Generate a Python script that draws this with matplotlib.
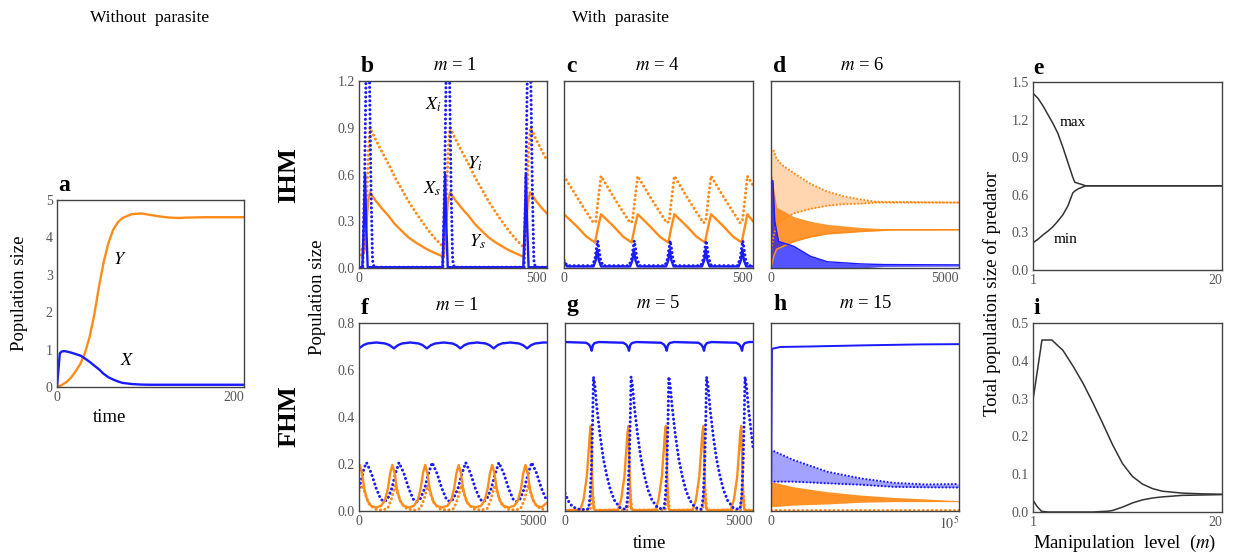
import numpy as np
import matplotlib
matplotlib.use('Agg')
import matplotlib.pyplot as plt

plt.rcParams['font.family'] = ['Liberation Serif', 'DejaVu Serif']
plt.rcParams['mathtext.fontset'] = 'stix'

BLUE = '#1a1aff'
ORANGE = '#ff8c1a'
GREY = '#333333'

# ---- panel a : without parasite ----
a_t = [0, 3, 5, 8, 10, 15, 20, 25, 30, 35, 40, 45, 50, 55, 60, 65, 70, 80, 90,
       100, 110, 120, 130, 140, 160, 180, 200]
a_Y = [0.0, 0.03, 0.05, 0.1, 0.13, 0.25, 0.42, 0.62, 0.92, 1.35, 1.95, 2.7, 3.35,
       3.85, 4.2, 4.4, 4.52, 4.62, 4.64, 4.6, 4.56, 4.53, 4.52, 4.53, 4.54, 4.54, 4.54]
a_X = [0.0, 0.9, 0.95, 0.96, 0.95, 0.92, 0.88, 0.84, 0.76, 0.67, 0.57, 0.47, 0.35,
       0.26, 0.2, 0.15, 0.11, 0.08, 0.065, 0.06, 0.06, 0.06, 0.06, 0.06, 0.06, 0.06, 0.06]

# ---- panel b : IHM, m = 1 ----
b_Yi_t = [0, 10, 15, 20, 25, 29, 45, 60, 80, 96, 115, 131, 150, 167, 185, 202, 222,
          226, 232, 237, 242, 258, 273, 293, 309, 328, 344, 363, 380, 398, 415, 435,
          439, 446, 451, 456, 472, 487, 500]
b_Yi = [0.14, 0.11, 0.12, 0.4, 0.75, 0.90, 0.82, 0.75, 0.66, 0.58, 0.50, 0.43, 0.36,
        0.30, 0.24, 0.19, 0.14, 0.13, 0.4, 0.75, 0.90, 0.82, 0.75, 0.66, 0.58, 0.50,
        0.43, 0.36, 0.30, 0.24, 0.19, 0.14, 0.13, 0.4, 0.75, 0.90, 0.82, 0.75, 0.69]
b_Ys_t = [0, 10, 15, 20, 25, 29, 45, 60, 80, 96, 115, 131, 150, 167, 185, 202, 222,
          226, 231, 236, 242, 258, 273, 293, 309, 328, 344, 363, 380, 398, 415, 435,
          439, 444, 449, 455, 471, 486, 500]
b_Ys = [0.085, 0.08, 0.12, 0.3, 0.44, 0.485, 0.43, 0.385, 0.33, 0.28, 0.235, 0.197,
        0.165, 0.14, 0.115, 0.096, 0.075, 0.075, 0.25, 0.42, 0.485, 0.43, 0.385, 0.33,
        0.28, 0.235, 0.197, 0.165, 0.14, 0.115, 0.096, 0.075, 0.075, 0.25, 0.42, 0.485,
        0.43, 0.385, 0.35]
b_Xs_t = [0, 9, 13, 16, 19, 23, 222, 226, 229, 232, 236, 437, 441, 444, 447, 451, 500]
b_Xs = [0.005, 0.005, 0.3, 0.6, 0.3, 0.005, 0.005, 0.3, 0.6, 0.3, 0.005, 0.005, 0.3,
        0.6, 0.3, 0.005, 0.005]
b_Xi_t = [0, 10, 15, 19, 23, 28, 32, 36, 40, 223, 228, 232, 236, 241, 245, 249, 253,
          439, 444, 448, 452, 457, 461, 465, 469, 500]
b_Xi = [0.005, 0.005, 0.6, 1.3, 1.5, 1.2, 0.5, 0.05, 0.005, 0.005, 0.6, 1.3, 1.5, 1.2,
        0.5, 0.05, 0.005, 0.005, 0.6, 1.3, 1.5, 1.2, 0.5, 0.05, 0.005, 0.005]

# ---- panel c : IHM, m = 4 ----
c_Yi_t = [0, 33, 59, 78, 84, 91, 98, 130, 156, 175, 181, 188, 195, 227, 253, 272, 278,
          285, 292, 324, 350, 369, 375, 382, 389, 421, 447, 466, 472, 479, 485, 500]
c_Yi = [0.59, 0.46, 0.36, 0.29, 0.30, 0.45, 0.59, 0.46, 0.36, 0.29, 0.30, 0.45, 0.59,
        0.46, 0.36, 0.29, 0.30, 0.45, 0.59, 0.46, 0.36, 0.29, 0.30, 0.45, 0.59, 0.46,
        0.36, 0.29, 0.30, 0.45, 0.59, 0.53]
c_Ys_t = [0, 34, 60, 82, 90, 98, 131, 157, 179, 187, 195, 228, 254, 276, 284, 292, 325,
          351, 373, 381, 389, 422, 448, 470, 478, 485, 500]
c_Ys = [0.345, 0.267, 0.20, 0.164, 0.26, 0.345, 0.267, 0.20, 0.164, 0.26, 0.345, 0.267,
        0.20, 0.164, 0.26, 0.345, 0.267, 0.20, 0.164, 0.26, 0.345, 0.267, 0.20, 0.164,
        0.26, 0.345, 0.30]
c_Xi_t = [0, 8, 75, 82, 86, 89, 92, 96, 103, 172, 179, 183, 186, 189, 193, 200, 267,
          274, 278, 281, 284, 288, 295, 362, 369, 373, 376, 379, 383, 390, 459, 466,
          470, 473, 476, 480, 487, 500]
c_Xi = [0.05, 0.015, 0.015, 0.06, 0.13, 0.175, 0.13, 0.06, 0.015, 0.015, 0.06, 0.13,
        0.175, 0.13, 0.06, 0.015, 0.015, 0.06, 0.13, 0.175, 0.13, 0.06, 0.015, 0.015,
        0.06, 0.13, 0.175, 0.13, 0.06, 0.015, 0.015, 0.06, 0.13, 0.175, 0.13, 0.06,
        0.015, 0.015]
c_Xs_t = [0, 8, 78, 84, 88, 92, 98, 175, 181, 185, 189, 195, 270, 276, 280, 284, 290,
          365, 371, 375, 379, 385, 462, 468, 472, 476, 482, 500]
c_Xs = [0.04, 0.01, 0.01, 0.05, 0.12, 0.05, 0.01, 0.01, 0.05, 0.12, 0.05, 0.01, 0.01,
        0.05, 0.12, 0.05, 0.01, 0.01, 0.05, 0.12, 0.05, 0.01, 0.01, 0.05, 0.12, 0.05,
        0.01, 0.01]

# ---- panel d : IHM, m = 6 (envelopes of the fast oscillations) ----
d_Yi_t = [0, 60, 150, 300, 600, 1050, 1500, 1930, 2380, 2800, 5000]
d_Yi_hi = [0.76, 0.76, 0.70, 0.66, 0.61, 0.54, 0.49, 0.46, 0.44, 0.425, 0.42]
d_Yi_lo = [0.10, 0.20, 0.28, 0.31, 0.35, 0.38, 0.40, 0.41, 0.413, 0.42, 0.42]
d_Ys_t = [0, 80, 150, 600, 1050, 1500, 2400, 3200, 5000]
d_Ys_hi = [0.62, 0.50, 0.39, 0.33, 0.30, 0.28, 0.26, 0.25, 0.245]
d_Ys_lo = [0.0, 0.08, 0.12, 0.17, 0.20, 0.22, 0.235, 0.245, 0.245]
d_X_t = [0, 50, 100, 200, 600, 1050, 1500, 2400, 3000, 5000]
d_X_hi = [0.56, 0.56, 0.30, 0.17, 0.14, 0.075, 0.04, 0.026, 0.022, 0.02]
d_X_lo = [0.0, 0.0, 0.0, 0.0, 0.0, 0.0, 0.0, 0.0, 0.01, 0.012]

# ---- panel e : IHM, max/min of total predator ----
e_m = [1, 1.5, 2, 2.5, 3, 3.5, 4, 4.5, 5, 5.2, 5.6, 6, 6.3, 7, 10, 15, 20]
e_max = [1.41, 1.37, 1.31, 1.24, 1.17, 1.09, 0.98, 0.86, 0.74, 0.70, 0.69, 0.68, 0.672,
         0.672, 0.672, 0.672, 0.672]
e_min = [0.218, 0.245, 0.28, 0.31, 0.345, 0.39, 0.44, 0.51, 0.615, 0.63, 0.65, 0.662,
         0.672, 0.672, 0.672, 0.672, 0.672]

# ---- panel f : FHM, m = 1 ----
f_Xs_t = [0, 120, 230, 460, 690, 810, 930, 1040, 1150, 1365, 1580, 1690, 1805, 1915,
          2030, 2255, 2480, 2585, 2695, 2805, 2915, 3140, 3365, 3470, 3580, 3690, 3800,
          4025, 4250, 4360, 4470, 4580, 4690, 4900, 5000]
f_Xs = [0.692, 0.706, 0.713, 0.717, 0.713, 0.706, 0.692, 0.706, 0.713, 0.717, 0.713,
        0.706, 0.692, 0.706, 0.713, 0.717, 0.713, 0.706, 0.692, 0.706, 0.713, 0.717,
        0.713, 0.706, 0.692, 0.706, 0.713, 0.717, 0.713, 0.706, 0.692, 0.706, 0.713,
        0.717, 0.717]
f_Xi_t = [0, 60, 130, 200, 330, 460, 580, 670, 760, 870, 970, 1064, 1194, 1324, 1444,
          1534, 1624, 1744, 1850, 1945, 2075, 2205, 2325, 2415, 2505, 2630, 2740, 2837,
          2967, 3097, 3217, 3307, 3397, 3515, 3625, 3720, 3850, 3980, 4100, 4190, 4280,
          4395, 4500, 4595, 4725, 4855, 4975, 5000]
f_Xi = [0.10, 0.13, 0.18, 0.206, 0.16, 0.095, 0.05, 0.04, 0.05, 0.095, 0.16, 0.206,
        0.16, 0.095, 0.05, 0.04, 0.05, 0.095, 0.16, 0.206, 0.16, 0.095, 0.05, 0.04,
        0.05, 0.095, 0.16, 0.206, 0.16, 0.095, 0.05, 0.04, 0.05, 0.095, 0.16, 0.206,
        0.16, 0.095, 0.05, 0.04, 0.05, 0.095, 0.16, 0.206, 0.16, 0.095, 0.05, 0.048]
f_Ys_t = [0, 20, 80, 140, 220, 320, 454, 588, 688, 768, 828, 888, 948, 1008, 1088, 1188,
          1324, 1460, 1560, 1640, 1700, 1760, 1820, 1880, 1960, 2060, 2205, 2350, 2450,
          2530, 2590, 2650, 2710, 2770, 2850, 2950, 3096, 3242, 3342, 3422, 3482, 3542,
          3602, 3662, 3742, 3842, 3985, 4128, 4228, 4308, 4368, 4428, 4488, 4548, 4628,
          4728, 4850, 5000]
f_Ys = [0.19, 0.196, 0.16, 0.095, 0.045, 0.022, 0.015, 0.022, 0.045, 0.095, 0.16, 0.196,
        0.16, 0.095, 0.045, 0.022, 0.015, 0.022, 0.045, 0.095, 0.16, 0.196, 0.16, 0.095,
        0.045, 0.022, 0.015, 0.022, 0.045, 0.095, 0.16, 0.196, 0.16, 0.095, 0.045, 0.022,
        0.015, 0.022, 0.045, 0.095, 0.16, 0.196, 0.16, 0.095, 0.045, 0.022, 0.015, 0.022,
        0.045, 0.095, 0.16, 0.196, 0.16, 0.095, 0.045, 0.022, 0.016, 0.035]
f_Yi_t = [0, 90, 170, 270, 420, 600, 760, 860, 958, 1038, 1138, 1288, 1470, 1630, 1730,
          1830, 1910, 2010, 2160, 2360, 2520, 2620, 2720, 2800, 2900, 3050, 3250, 3410,
          3510, 3612, 3692, 3792, 3942, 4140, 4300, 4400, 4498, 4578, 4678, 4828, 5000]
f_Yi = [0.085, 0.11, 0.07, 0.03, 0.008, 0.004, 0.01, 0.05, 0.11, 0.07, 0.03, 0.008,
        0.004, 0.01, 0.05, 0.11, 0.07, 0.03, 0.008, 0.004, 0.01, 0.05, 0.11, 0.07, 0.03,
        0.008, 0.004, 0.01, 0.05, 0.11, 0.07, 0.03, 0.008, 0.004, 0.01, 0.05, 0.11, 0.07,
        0.03, 0.008, 0.006]

# ---- panel g : FHM, m = 5 ----
g_Xs_t = [0, 560, 640, 685, 709, 740, 790, 910, 1550, 1630, 1678, 1702, 1732, 1782, 1900,
          2555, 2635, 2680, 2704, 2735, 2785, 2900, 3545, 3625, 3672, 3697, 3728, 3778,
          3900, 4555, 4635, 4683, 4707, 4738, 4788, 4900, 5000]
g_Xs = [0.719, 0.716, 0.708, 0.695, 0.682, 0.705, 0.715, 0.719, 0.716, 0.708, 0.695,
        0.682, 0.705, 0.715, 0.719, 0.716, 0.708, 0.695, 0.682, 0.705, 0.715, 0.719,
        0.716, 0.708, 0.695, 0.682, 0.705, 0.715, 0.719, 0.716, 0.708, 0.695, 0.682,
        0.705, 0.715, 0.719, 0.719]
g_Xi_t = [0, 100, 200, 350, 550,
          627, 667, 707, 737, 757, 797, 847, 934, 1023, 1112, 1207, 1317, 1457, 1607,
          1627, 1667, 1707, 1737, 1757, 1797, 1847, 1934, 2023, 2112, 2207, 2317, 2457, 2607,
          2631, 2671, 2711, 2741, 2761, 2801, 2851, 2938, 3027, 3116, 3211, 3321, 3461, 3611,
          3635, 3675, 3715, 3745, 3765, 3805, 3855, 3942, 4031, 4120, 4215, 4325, 4465, 4615,
          4657, 4697, 4737, 4767, 4787, 4827, 4877, 4964, 5000]
g_Xi = [0.075, 0.04, 0.018, 0.008, 0.006,
        0.01, 0.06, 0.2, 0.4, 0.571, 0.53, 0.44, 0.32, 0.22, 0.15, 0.09, 0.045, 0.015, 0.007,
        0.01, 0.06, 0.2, 0.4, 0.571, 0.53, 0.44, 0.32, 0.22, 0.15, 0.09, 0.045, 0.015, 0.007,
        0.01, 0.06, 0.2, 0.4, 0.571, 0.53, 0.44, 0.32, 0.22, 0.15, 0.09, 0.045, 0.015, 0.007,
        0.01, 0.06, 0.2, 0.4, 0.571, 0.53, 0.44, 0.32, 0.22, 0.15, 0.09, 0.045, 0.015, 0.007,
        0.01, 0.06, 0.2, 0.4, 0.571, 0.53, 0.44, 0.32, 0.27]
g_Ys_t = [0,
          406, 491, 580, 624, 661, 686, 711, 736, 761, 806,
          1406, 1491, 1580, 1624, 1661, 1686, 1711, 1736, 1761, 1806,
          2402, 2487, 2576, 2620, 2657, 2682, 2707, 2732, 2757, 2802,
          3397, 3482, 3571, 3615, 3652, 3677, 3702, 3727, 3752, 3797,
          4406, 4491, 4580, 4624, 4661, 4686, 4711, 4736, 4761, 4806, 5000]
g_Ys = [0.003,
        0.005, 0.047, 0.146, 0.245, 0.33, 0.362, 0.22, 0.08, 0.01, 0.003,
        0.005, 0.047, 0.146, 0.245, 0.33, 0.362, 0.22, 0.08, 0.01, 0.003,
        0.005, 0.047, 0.146, 0.245, 0.33, 0.362, 0.22, 0.08, 0.01, 0.003,
        0.005, 0.047, 0.146, 0.245, 0.33, 0.362, 0.22, 0.08, 0.01, 0.003,
        0.005, 0.047, 0.146, 0.245, 0.33, 0.362, 0.22, 0.08, 0.01, 0.003, 0.003]
g_Yi_t = [0, 666, 701, 726, 751, 786, 1666, 1701, 1726, 1751, 1786, 2662, 2697, 2722,
          2747, 2782, 3657, 3692, 3717, 3742, 3777, 4666, 4701, 4726, 4751, 4786, 5000]
g_Yi = [0.004, 0.004, 0.05, 0.1, 0.05, 0.004, 0.004, 0.05, 0.1, 0.05, 0.004, 0.004, 0.05,
        0.1, 0.05, 0.004, 0.004, 0.05, 0.1, 0.05, 0.004, 0.004, 0.05, 0.1, 0.05, 0.004,
        0.004]

# ---- panel h : FHM, m = 15 (envelopes) ----
h_Xs_t = [0, 500, 5000, 20000, 50000, 80000, 100000]
h_Xs = [0.0, 0.69, 0.698, 0.70, 0.705, 0.709, 0.71]
h_Xi_t = [0, 12000, 30000, 47500, 65000, 82000, 100000]
h_Xi_hi = [0.26, 0.217, 0.167, 0.139, 0.12, 0.113, 0.115]
h_Xi_lo = [0.125, 0.125, 0.118, 0.112, 0.103, 0.101, 0.10]
h_Ys_t = [0, 12000, 30000, 47500, 65000, 100000]
h_Ys_hi = [0.125, 0.103, 0.082, 0.068, 0.058, 0.044]
h_Ys_lo = [0.018, 0.025, 0.03, 0.037, 0.04, 0.04]
h_Yi_t = [0, 100000]
h_Yi = [0.004, 0.004]

# ---- panel i : FHM, max/min of total predator ----
i_m_up = [1, 1.9, 2.9, 3.5, 4, 5, 6, 6.5, 7, 8, 9, 10, 11, 12, 13, 14, 16, 18, 20]
i_max = [0.296, 0.455, 0.455, 0.44, 0.428, 0.387, 0.342, 0.316, 0.29, 0.235, 0.178,
         0.128, 0.094, 0.074, 0.062, 0.055, 0.05, 0.048, 0.047]
i_m_lo = [1, 1.4, 1.85, 2.5, 7, 7.7, 8.5, 9, 10, 11, 12, 13, 14, 16, 18, 20]
i_min = [0.031, 0.015, 0.002, 0.0, 0.0, 0.001, 0.002, 0.004, 0.013, 0.024, 0.032, 0.037,
         0.04, 0.044, 0.045, 0.046]

W, H = 1234, 554
fig = plt.figure(figsize=(W / 100, H / 100), dpi=100)

DOT = dict(linestyle=(0, (0.01, 1.45)), lw=2.2, dash_capstyle='round')
THIN_DOT = dict(linestyle=(0, (0.01, 1.6)), lw=1.6, dash_capstyle='round')
SOL = dict(lw=1.7)


def add_ax(l, t, r, b):
    return fig.add_axes([l / W, 1 - b / H, (r - l) / W, (b - t) / H])


def style(ax, xlim, ylim, xticks, xlabels, yticks=None, ylabels=None):
    ax.set_xlim(xlim)
    ax.set_ylim(ylim)
    ax.set_xticks(xticks)
    ax.set_xticklabels(xlabels)
    if yticks is None:
        ax.set_yticks([])
    else:
        ax.set_yticks(yticks)
        ax.set_yticklabels(ylabels)
    ax.tick_params(length=0, labelsize=10, labelcolor='#555555', pad=3)
    for s in ax.spines.values():
        s.set_color('#444444')
        s.set_linewidth(1.0)
    ax.get_xticklabels()[-1].set_ha('right')


def ftext(x, y, s, **kw):
    fig.text(x / W, 1 - y / H, s, **kw)


def panel_title(x, y, letter, title=None, tx=None):
    ftext(x, y, letter, fontsize=17, fontweight='bold', va='center', ha='left')
    if title:
        ftext(tx, y - 2, title, fontsize=13.5, va='center', ha='center')


# a
ax = add_ax(57, 200, 244, 387)
ax.plot(a_t, a_Y, color=ORANGE, **SOL)
ax.plot(a_t, a_X, color=BLUE, **SOL)
ax.text(67, 3.4, '$Y$', fontsize=13, ha='center', va='center')
ax.text(75, 0.72, '$X$', fontsize=13, ha='center', va='center')
style(ax, (0, 200), (0, 5), [0, 200], ['0', '200'], [0, 1, 2, 3, 4, 5],
      ['0', '1', '2', '3', '4', '5'])
panel_title(58, 185, 'a')

# b
ax = add_ax(359, 81, 547, 268)
ax.plot(b_Yi_t, b_Yi, color=ORANGE, **DOT)
ax.plot(b_Ys_t, b_Ys, color=ORANGE, **SOL)
ax.plot(b_Xi_t, b_Xi, color=BLUE, **DOT)
ax.plot(b_Xs_t, b_Xs, color=BLUE, **SOL)
ax.text(197, 1.05, '$X_i$', fontsize=13, ha='center', va='center')
ax.text(308, 0.67, '$Y_i$', fontsize=13, ha='center', va='center')
ax.text(194, 0.51, '$X_s$', fontsize=13, ha='center', va='center')
ax.text(314, 0.17, '$Y_s$', fontsize=13, ha='center', va='center')
style(ax, (0, 500), (0, 1.2), [0, 500], ['0', '500'], [0, 0.3, 0.6, 0.9, 1.2],
      ['0.0', '0.3', '0.6', '0.9', '1.2'])
panel_title(361, 67, 'b', '$m$ = 1', 455)

# c
ax = add_ax(564, 81, 753, 268)
ax.plot(c_Yi_t, c_Yi, color=ORANGE, **DOT)
ax.plot(c_Ys_t, c_Ys, color=ORANGE, **SOL)
ax.plot(c_Xs_t, c_Xs, color=BLUE, **SOL)
ax.plot(c_Xi_t, c_Xi, color=BLUE, **DOT)
style(ax, (0, 500), (0, 1.2), [0, 500], ['0', '500'])
panel_title(566, 67, 'c', '$m$ = 4', 657)

# d
ax = add_ax(771, 81, 959, 268)
ax.fill_between(d_Yi_t, d_Yi_lo, d_Yi_hi, color=ORANGE, alpha=0.35, lw=0)
ax.plot(d_Yi_t, d_Yi_hi, color=ORANGE, **THIN_DOT)
ax.plot(d_Yi_t, d_Yi_lo, color=ORANGE, **THIN_DOT)
ax.fill_between(d_Ys_t, d_Ys_lo, d_Ys_hi, color=ORANGE, alpha=0.9, lw=0)
ax.plot(d_Ys_t, d_Ys_lo, color=ORANGE, lw=1.2)
ax.fill_between(d_X_t, d_X_lo, d_X_hi, color=BLUE, alpha=0.75, lw=0)
ax.plot(d_X_t, d_X_hi, color=BLUE, lw=1.0)
style(ax, (0, 5000), (0, 1.2), [0, 5000], ['0', '5000'])
panel_title(773, 67, 'd', '$m$ = 6', 862)

# e
ax = add_ax(1033, 82, 1222, 270)
ax.plot(e_m, e_max, color=GREY, lw=1.1)
ax.plot(e_m, e_min, color=GREY, lw=1.1)
ax.text(5.0, 1.18, 'max', fontsize=11, ha='center', va='center')
ax.text(4.3, 0.24, 'min', fontsize=11, ha='center', va='center')
style(ax, (1, 20), (0, 1.5), [1, 20], ['1', '20'], [0, 0.3, 0.6, 0.9, 1.2, 1.5],
      ['0.0', '0.3', '0.6', '0.9', '1.2', '1.5'])
panel_title(1033, 68, 'e')

# f
ax = add_ax(359, 323, 547, 511)
ax.plot(f_Yi_t, f_Yi, color=ORANGE, **DOT)
ax.plot(f_Xi_t, f_Xi, color=BLUE, **DOT)
ax.plot(f_Ys_t, f_Ys, color=ORANGE, **SOL)
ax.plot(f_Xs_t, f_Xs, color=BLUE, **SOL)
style(ax, (0, 5000), (0, 0.8), [0, 5000], ['0', '5000'], [0, 0.2, 0.4, 0.6, 0.8],
      ['0.0', '0.2', '0.4', '0.6', '0.8'])
panel_title(361, 308, 'f', '$m$ = 1', 457)

# g
ax = add_ax(565, 323, 753, 511)
ax.plot(g_Yi_t, g_Yi, color=ORANGE, **DOT)
ax.plot(g_Ys_t, g_Ys, color=ORANGE, **SOL)
ax.plot(g_Xi_t, g_Xi, color=BLUE, **DOT)
ax.plot(g_Xs_t, g_Xs, color=BLUE, **SOL)
style(ax, (0, 5000), (0, 0.8), [0, 5000], ['0', '5000'])
panel_title(566, 305, 'g', '$m$ = 5', 658)

# h
ax = add_ax(771, 323, 959, 511)
ax.fill_between(h_Xi_t, h_Xi_lo, h_Xi_hi, color=BLUE, alpha=0.4, lw=0)
ax.plot(h_Xi_t, h_Xi_hi, color=BLUE, **THIN_DOT)
ax.plot(h_Xi_t, h_Xi_lo, color=BLUE, **THIN_DOT)
ax.fill_between(h_Ys_t, h_Ys_lo, h_Ys_hi, color=ORANGE, alpha=0.95, lw=0)
ax.plot(h_Yi_t, h_Yi, color=ORANGE, **DOT)
ax.plot(h_Xs_t, h_Xs, color=BLUE, lw=1.4)
style(ax, (0, 100000), (0, 0.8), [0, 100000], ['0', '$10^5$'])
panel_title(773, 305, 'h', '$m$ = 15', 866)

# i
ax = add_ax(1033, 323, 1222, 512)
ax.plot(i_m_up, i_max, color=GREY, lw=1.1)
ax.plot(i_m_lo, i_min, color=GREY, lw=1.1)
style(ax, (1, 20), (0, 0.5), [1, 20], ['1', '20'], [0, 0.1, 0.2, 0.3, 0.4, 0.5],
      ['0.0', '0.1', '0.2', '0.3', '0.4', '0.5'])
panel_title(1033, 308, 'i')

# shared texts
ftext(150, 18, 'Without  parasite', fontsize=12.5, ha='center', va='center')
ftext(620, 18, 'With  parasite', fontsize=12.5, ha='center', va='center')
ftext(289, 175, 'IHM', fontsize=19, fontweight='bold', rotation=90, ha='center', va='center')
ftext(289, 416, 'FHM', fontsize=19, fontweight='bold', rotation=90, ha='center', va='center')
ftext(20, 293, 'Population size', fontsize=13.5, rotation=90, ha='center', va='center')
ftext(110, 417, 'time', fontsize=13.5, ha='center', va='center')
ftext(318, 297, 'Population size', fontsize=13.5, rotation=90, ha='center', va='center')
ftext(650, 543, 'time', fontsize=13.5, ha='center', va='center')
ftext(992, 293, 'Total population size of predator', fontsize=13.5, rotation=90,
      ha='center', va='center')
ftext(1125, 543, 'Manipulation  level  ($m$)', fontsize=13.5, ha='center', va='center')

fig.savefig('out.png', dpi=100)
